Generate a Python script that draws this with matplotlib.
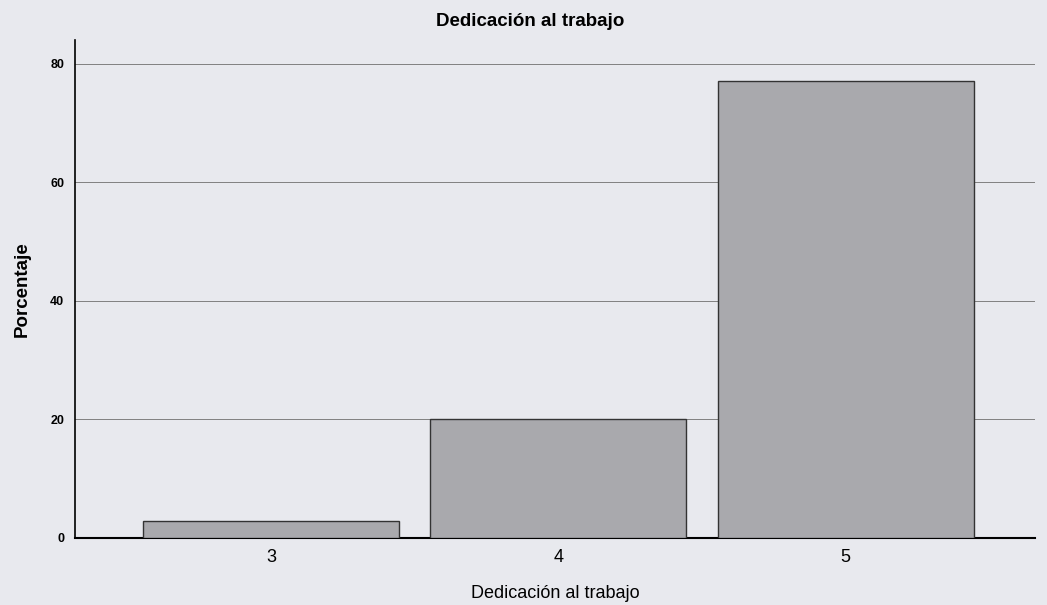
import numpy as np
import matplotlib.pyplot as plt

# --- datos ---
CATEGORIES = ["3", "4", "5"]
PERCENTS = [2.9, 20.0, 77.1]
Y_TICKS = [0, 20, 40, 60, 80]

plt.rcParams['font.family'] = ['Liberation Sans', 'DejaVu Sans']

BG = "#e8e9ee"

fig = plt.figure(figsize=(10.47, 6.05), dpi=100, facecolor=BG)
ax = fig.add_axes([0.072, 0.111, 0.917, 0.823])
ax.set_facecolor(BG)

x = np.arange(len(CATEGORIES))
ax.bar(x, PERCENTS, width=0.89, color="#a9a9ad", edgecolor="#333333",
       linewidth=1.0, zorder=3)

ax.set_xlim(-0.68, 2.66)
ax.set_ylim(0, 84)
ax.set_yticks(Y_TICKS)
ax.set_yticklabels([str(v) for v in Y_TICKS], fontsize=9, fontweight="bold")
ax.set_xticks(x)
ax.set_xticklabels(CATEGORIES, fontsize=13)
ax.tick_params(axis="both", length=0)
ax.tick_params(axis="y", pad=8)
ax.tick_params(axis="x", pad=8)

# rejilla horizontal
ax.yaxis.grid(True, color="#808080", linewidth=0.7, linestyle="-", zorder=0)
ax.set_axisbelow(True)

for side in ["top", "right"]:
    ax.spines[side].set_visible(False)
ax.spines["left"].set_linewidth(1.2)
ax.spines["bottom"].set_linewidth(1.5)

ax.set_title("Dedicación al trabajo", fontsize=13.5, fontweight="bold",
             x=0.474, pad=10)
ax.set_xlabel("Dedicación al trabajo", fontsize=13, labelpad=14)
ax.set_ylabel("Porcentaje", fontsize=13.5, fontweight="bold", labelpad=14)

fig.savefig("out.png", dpi=100, facecolor=BG)
